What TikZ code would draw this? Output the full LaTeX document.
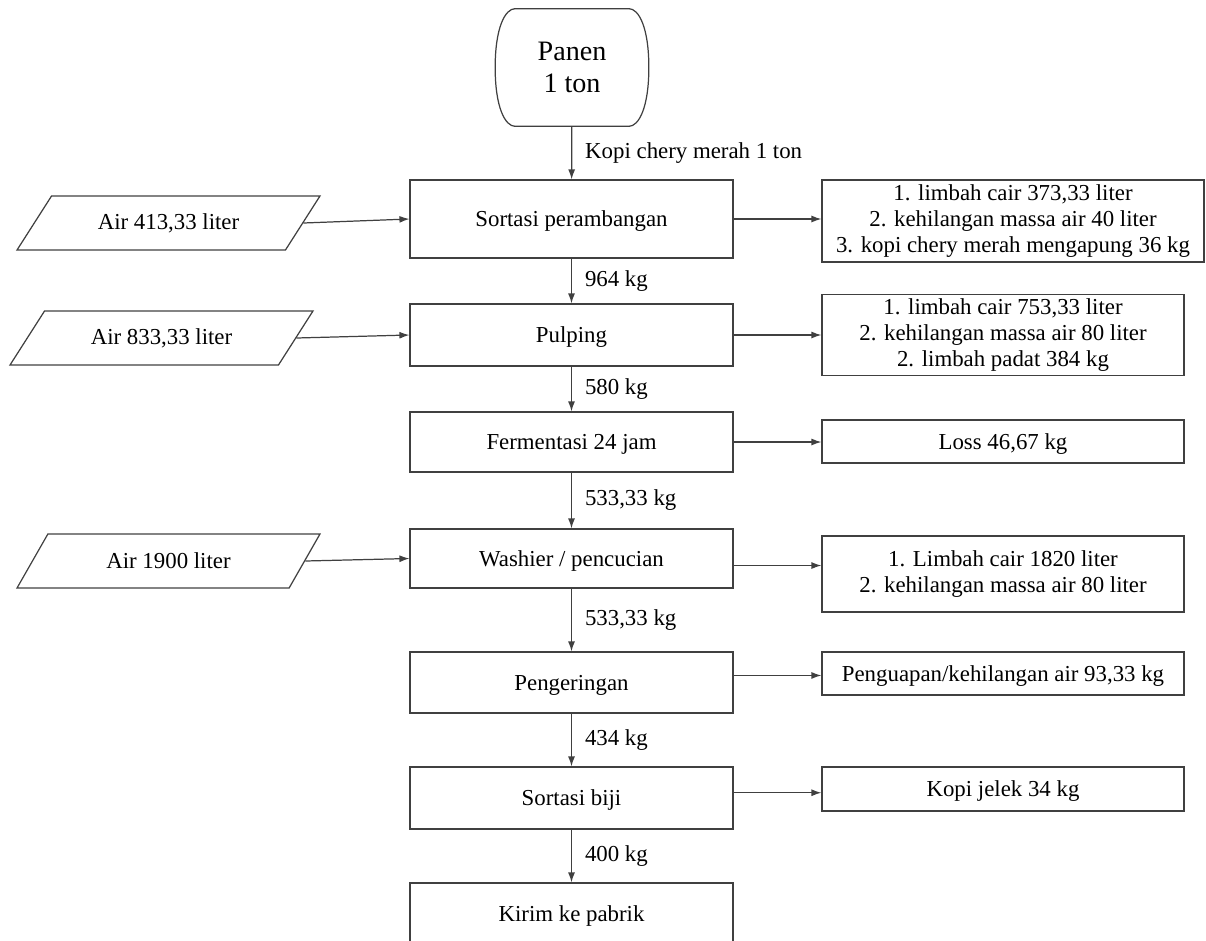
\documentclass[tikz,border=0pt]{standalone}
\usepackage{fontspec}
\setmainfont{Liberation Serif}
\usetikzlibrary{shapes.geometric,arrows.meta}
\begin{document}
\begin{tikzpicture}[x=0.02cm, y=-0.02cm,
		font=\fontsize{13}{15}\selectfont,
		garis/.style = {draw=black!75, line width=0.7pt},
		proc/.style = {garis, rectangle, minimum width=6.46cm, inner sep=2pt, text height=2.2ex, text depth=0.3ex},
		hasil/.style = {garis, rectangle, minimum width=7.24cm, inner sep=2pt, align=center},
		satu/.style = {text height=2.2ex, text depth=0.3ex},
		bahan/.style = {garis, trapezium, trapezium left angle=42, trapezium right angle=138, trapezium stretches body, minimum width=6.06cm, minimum height=1.08cm},
		term/.style = {rectangle, minimum width=3.06cm, minimum height=2.34cm, align=center, font=\fontsize{16}{18}\selectfont},
		alir/.style = {draw=black!75, line width=0.7pt, -{Latex[length=2mm,width=1.4mm]}}]

	\clip (0,0) rectangle (1206,940);

	\node[term] (panen) at (572,67.5) {Panen\\ 1 ton};
	\draw[garis] ([xshift=0.4cm]panen.north west) -- ([xshift=-0.4cm]panen.north east)
		.. controls ([xshift=-0.2cm]panen.north east) and ([yshift=0.8cm]panen.east) .. (panen.east)
		.. controls ([yshift=-0.8cm]panen.east) and ([xshift=-0.2cm]panen.south east) .. ([xshift=-0.4cm]panen.south east)
		-- ([xshift=0.4cm]panen.south west)
		.. controls ([xshift=0.2cm]panen.south west) and ([yshift=-0.8cm]panen.west) .. (panen.west)
		.. controls ([yshift=0.8cm]panen.west) and ([xshift=0.2cm]panen.north west) .. cycle;

	\node[proc, minimum height=1.56cm] (sortasi) at (571.5,219) {Sortasi perambangan};
	\node[proc, minimum height=1.24cm] (pulping) at (571.5,335) {Pulping};
	\node[proc, minimum height=1.2cm] (fermentasi) at (571.5,442) {Fermentasi 24 jam};
	\node[proc, minimum height=1.18cm] (washier) at (571.5,558.5) {Washier / pencucian};
	\node[proc, minimum height=1.22cm] (pengeringan) at (571.5,682.5) {Pengeringan};
	\node[proc, minimum height=1.24cm] (biji) at (571.5,798) {Sortasi biji};
	\node[proc, minimum height=1.24cm] (kirim) at (571.5,914) {Kirim ke pabrik};

	\node[bahan] (air1) at (168.5,223) {Air 413,33 liter};
	\node[bahan] (air2) at (161.5,338) {Air 833,33 liter};
	\node[bahan] (air3) at (168.5,561) {Air 1900 liter};

	\node[hasil, minimum width=7.64cm, minimum height=1.64cm] (out1) at (1013,221) {1. limbah cair 373,33 liter\\ 2. kehilangan massa air 40 liter\\ 3. kopi chery merah mengapung 36 kg};
	\node[hasil, minimum height=1.6cm] (out2) at (1003,335) {1. limbah cair 753,33 liter\\ 2. kehilangan massa air 80 liter\\ 2. limbah padat 384 kg};
	\node[hasil, satu, minimum height=0.86cm] (out3) at (1003,441.5) {Loss 46,67 kg};
	\node[hasil, minimum height=1.52cm] (out4) at (1003,574) {1. Limbah cair 1820 liter\\ 2. kehilangan massa air 80 liter};
	\node[hasil, satu, minimum height=0.86cm] (out5) at (1003,673.5) {Penguapan/kehilangan air 93,33 kg};
	\node[hasil, satu, minimum height=0.88cm] (out6) at (1003,789) {Kopi jelek 34 kg};

	% alur utama
	\draw[alir] (panen) -- node[midway, right=4pt] {Kopi chery merah 1 ton} (sortasi);
	\draw[alir] (sortasi) -- node[midway, right=4pt] {964 kg} (pulping);
	\draw[alir] (pulping) -- node[midway, right=4pt] {580 kg} (fermentasi);
	\draw[alir] (fermentasi) -- node[midway, right=4pt] {533,33 kg} (washier);
	\draw[alir] (washier) -- node[midway, right=4pt] {533,33 kg} (pengeringan);
	\draw[alir] (pengeringan) -- node[midway, right=4pt] {434 kg} (biji);
	\draw[alir] (biji) -- node[midway, right=4pt] {400 kg} (kirim);

	% masukan air
	\draw[alir] (air1.east) -- (sortasi.west);
	\draw[alir] (air2.east) -- (pulping.west);
	\draw[alir] (air3.east) -- (washier.west);

	% keluaran
	\draw[alir] (sortasi.east) -- (sortasi.east -| out1.west);
	\draw[alir] (pulping.east) -- (pulping.east -| out2.west);
	\draw[alir] (fermentasi.east) -- (fermentasi.east -| out3.west);
	\draw[alir] ([yshift=-4]washier.east) -- ([yshift=-4]washier.east -| out4.west);
	\draw[alir] ([yshift=4]pengeringan.east) -- ([yshift=4]pengeringan.east -| out5.west);
	\draw[alir] ([yshift=3]biji.east) -- ([yshift=3]biji.east -| out6.west);
\end{tikzpicture}
\end{document}
